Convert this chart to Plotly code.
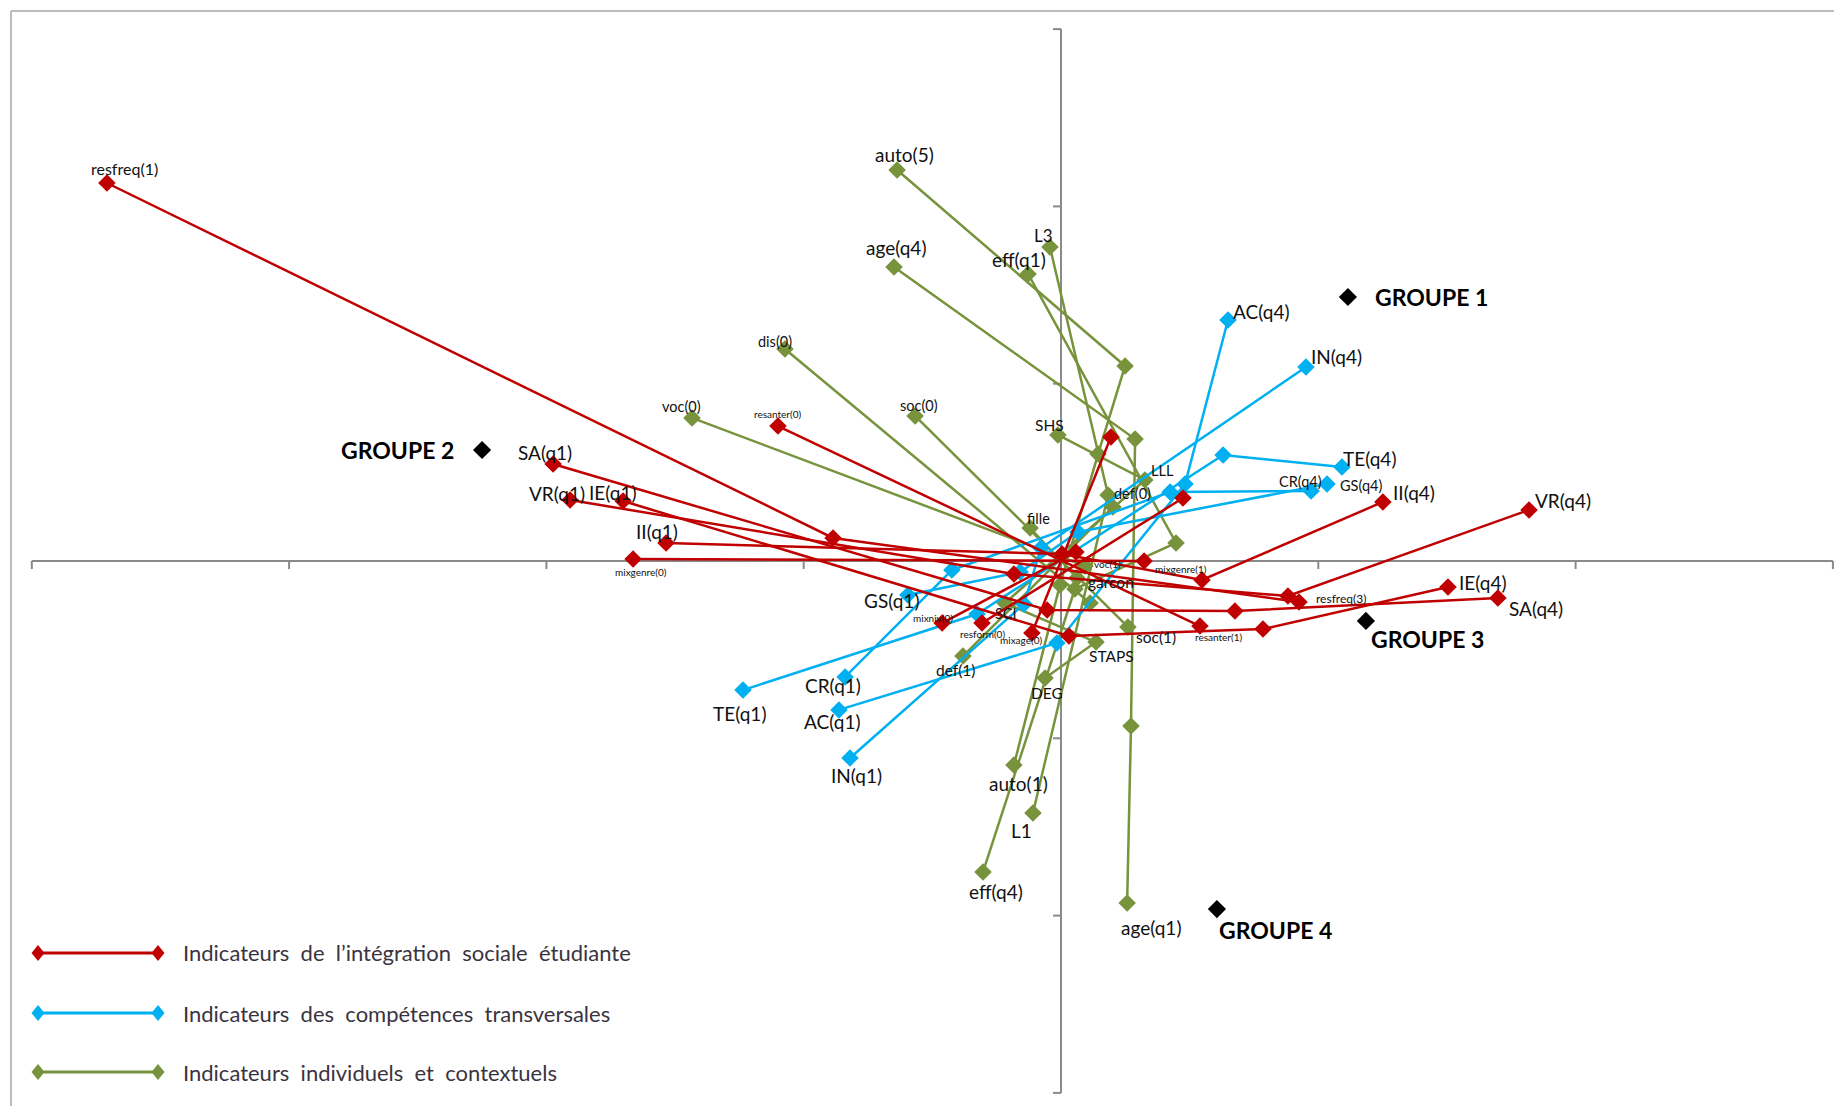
import plotly.graph_objects as go

# ---------------- DATA (factor coordinates: axis 1 = x, axis 2 = y) ----------------
# Indicateurs de l'intégration sociale étudiante (red)
sa_lab = ["SA(q1)", "", "", "SA(q4)"]
sa_x = [-1.974, -0.054, 0.676, 1.698]
sa_y = [0.547, -0.276, -0.282, -0.209]
vr_lab = ["VR(q1)", "", "", "VR(q4)"]
vr_x = [-1.908, -0.183, 0.882, 1.819]
vr_y = [0.344, -0.073, -0.197, 0.288]
ie_lab = ["IE(q1)", "", "", "IE(q4)"]
ie_x = [-1.702, 0.031, 0.785, 1.504]
ie_y = [0.338, -0.423, -0.384, -0.147]
ii_lab = ["II(q1)", "", "", "II(q4)"]
ii_x = [-1.535, 0.004, 0.548, 1.251]
ii_y = [0.102, 0.039, -0.107, 0.333]
resfreq_lab = ["resfreq(1)", "", "resfreq(3)"]
resfreq_x = [-3.708, -0.886, 0.925]
resfreq_y = [2.132, 0.130, -0.231]
mixgenre_lab = ["mixgenre(0)", "mixgenre(1)"]
mixgenre_x = [-1.663, 0.323]
mixgenre_y = [0.011, 0.0]
resanter_lab = ["resanter(0)", "resanter(1)"]
resanter_x = [-1.100, 0.540]
resanter_y = [0.761, -0.367]
mixniv_lab = ["mixniv(0)", ""]
mixniv_x = [-0.462, 0.058]
mixniv_y = [-0.350, 0.051]
resform_lab = ["resform(0)", ""]
resform_x = [-0.307, 0.474]
resform_y = [-0.350, 0.355]
mixage_lab = ["mixage(0)", ""]
mixage_x = [-0.113, 0.194]
mixage_y = [-0.406, 0.699]

# Indicateurs des compétences transversales (blue)
ac_lab = ["AC(q1)", "", "", "AC(q4)"]
ac_x = [-0.863, -0.016, 0.482, 0.649]
ac_y = [-0.840, -0.462, 0.434, 1.359]
in_lab = ["IN(q1)", "", "", "IN(q4)"]
in_x = [-0.820, -0.144, -0.078, 0.952]
in_y = [-1.111, -0.243, 0.073, 1.094]
te_lab = ["TE(q1)", "", "", "TE(q4)"]
te_x = [-1.236, -0.326, 0.630, 1.092]
te_y = [-0.728, -0.299, 0.598, 0.530]
cr_lab = ["CR(q1)", "", "", "CR(q4)"]
cr_x = [-0.839, -0.424, 0.424, 0.972]
cr_y = [-0.654, -0.051, 0.389, 0.395]
gs_lab = ["GS(q1)", "", "", "GS(q4)"]
gs_x = [-0.595, -0.159, 0.066, 1.034]
gs_y = [-0.192, -0.062, 0.164, 0.434]

# Indicateurs individuels et contextuels (green)
auto_lab = ["auto(1)", "", "", "", "auto(5)"]
auto_x = [-0.183, -0.004, 0.144, 0.249, -0.637]
auto_y = [-1.151, -0.135, 0.603, 1.100, 2.205]
age_lab = ["age(q1)", "", "", "age(q4)"]
age_x = [0.257, 0.272, 0.288, -0.649]
age_y = [-1.929, -0.931, 0.688, 1.658]
eff_lab = ["eff(q1)", "", "", "eff(q4)"]
eff_x = [-0.128, 0.447, 0.054, -0.303]
eff_y = [1.619, 0.102, -0.158, -1.754]
niv_lab = ["L1", "", "L3"]
niv_x = [-0.109, 0.183, -0.043]
niv_y = [-1.421, 0.372, 1.771]
disc_lab = ["SHS", "LLL", "SCI", "STAPS", "DEG"]
disc_x = [-0.012, 0.326, -0.218, 0.136, -0.062]
disc_y = [0.711, 0.457, -0.237, -0.457, -0.660]
dis_lab = ["dis(0)", ""]
dis_x = [-1.073, 0.113]
dis_y = [1.196, -0.237]
voc_lab = ["voc(0)", "voc(1)"]
voc_x = [-1.434, 0.093]
voc_y = [0.807, -0.028]
soc_lab = ["soc(0)", "soc(1)"]
soc_x = [-0.567, 0.260]
soc_y = [0.818, -0.372]
def_lab = ["def(0)", "def(1)"]
def_x = [0.202, -0.381]
def_y = [0.305, -0.536]
sexe_lab = ["fille", "garcon"]
sexe_x = [-0.120, 0.062]
sexe_y = [0.186, -0.096]

# Groupes (classes)
grp_lab = ["GROUPE 1", "GROUPE 2", "GROUPE 3", "GROUPE 4"]
grp_x = [1.115, -2.250, 1.185, 0.606]
grp_y = [1.489, 0.626, -0.338, -1.963]

# Axis ticks
x_ticks = [-4, -3, -2, -1, 0, 1, 2, 3]
y_ticks = [-3, -2, -1, 0, 1, 2, 3]

legend_names = ["Indicateurs de l\u2019intégration sociale étudiante",
                "Indicateurs des compétences transversales",
                "Indicateurs individuels et contextuels"]

# ---------------- STYLE ----------------
RED, BLUE, GREEN = "#C00000", "#00B0F0", "#77933C"
FONT = "Lato, Carlito, Calibri, sans-serif"
W, H = 1834, 1106
XR = [-1061 / 257.3, (W - 1061) / 257.3]
YR = [(561 - H) / 177.3, 561 / 177.3]

M, S, T = 19, 14.5, 10  # medium / small / tiny label font sizes
# label -> (dx px, dy px (down), font size)
label_style = {
    "resfreq(1)": (18, -15, 16), "resanter(0)": (0, -12, T), "SA(q1)": (-8, -12, M),
    "VR(q1)": (-13, -7, M), "IE(q1)": (-10, -9, M), "II(q1)": (-9, -11, M),
    "mixgenre(0)": (8, 13, T), "mixgenre(1)": (37, 8, T), "resanter(1)": (19, 11, T),
    "mixniv(0)": (-9, -5, T), "resform(0)": (0, 11, T), "mixage(0)": (-11, 7, T),
    "resfreq(3)": (42, -3, 12), "II(q4)": (31, -9, M), "VR(q4)": (34, -9, M),
    "IE(q4)": (35, -5, M), "SA(q4)": (38, 10, M),
    "AC(q4)": (33, -9, M), "IN(q4)": (31, -11, M), "TE(q4)": (28, -9, M),
    "CR(q4)": (-11, -9, S), "GS(q4)": (34, 1, S), "TE(q1)": (-3, 23, M),
    "CR(q1)": (-12, 9, M), "AC(q1)": (-7, 12, M), "IN(q1)": (6, 18, M), "GS(q1)": (-16, 5, M),
    "auto(5)": (7, -16, M), "age(q4)": (2, -20, M), "L3": (-6, -12, 17), "eff(q1)": (-9, -14, M),
    "soc(0)": (4, -10, S), "SHS": (-8, -10, 15.5), "dis(0)": (-10, -7, S), "voc(0)": (-11, -11, S),
    "fille": (8, -10, S), "LLL": (18, -9, S), "def(0)": (20, -13, S), "garcon": (34, 4, 15.5),
    "voc(1)": (23, -2, T), "soc(1)": (28, 10, 15.5), "STAPS": (16, 14, 15.5),
    "def(1)": (-7, 14, 15.5), "DEG": (2, 15, 15.5), "SCI": (1, 10, S),
    "auto(1)": (5, 18, M), "L1": (-11, 18, M), "eff(q4)": (13, 20, M), "age(q1)": (24, 24, M),
}
grp_style = {"GROUPE 1": ("left", 25, 0), "GROUPE 2": ("right", -26, 0),
             "GROUPE 3": ("left", 3, 18), "GROUPE 4": ("left", 0, 21)}

series = [
    (GREEN, [(auto_lab, auto_x, auto_y), (age_lab, age_x, age_y), (eff_lab, eff_x, eff_y),
             (niv_lab, niv_x, niv_y), (disc_lab, disc_x, disc_y), (dis_lab, dis_x, dis_y),
             (voc_lab, voc_x, voc_y), (soc_lab, soc_x, soc_y), (def_lab, def_x, def_y),
             (sexe_lab, sexe_x, sexe_y)]),
    (BLUE, [(ac_lab, ac_x, ac_y), (in_lab, in_x, in_y), (te_lab, te_x, te_y),
            (cr_lab, cr_x, cr_y), (gs_lab, gs_x, gs_y)]),
    (RED, [(sa_lab, sa_x, sa_y), (vr_lab, vr_x, vr_y), (ie_lab, ie_x, ie_y), (ii_lab, ii_x, ii_y),
           (resfreq_lab, resfreq_x, resfreq_y), (mixgenre_lab, mixgenre_x, mixgenre_y),
           (resanter_lab, resanter_x, resanter_y), (mixniv_lab, mixniv_x, mixniv_y),
           (resform_lab, resform_x, resform_y), (mixage_lab, mixage_x, mixage_y)]),
]

fig = go.Figure()
annotations = []
for color, variables in series:
    for labs, xs, ys in variables:
        fig.add_trace(go.Scatter(
            x=xs, y=ys, mode="lines+markers", showlegend=False,
            line=dict(color=color, width=2.5),
            marker=dict(symbol="diamond", size=13.5, color=color),
            text=labs, hoverinfo="text+x+y"))
        for lab, x, y in zip(labs, xs, ys):
            if lab:
                dx, dy, fs = label_style[lab]
                annotations.append(dict(
                    x=x, y=y, xref="x", yref="y", text=lab, showarrow=False,
                    xanchor="center", yanchor="middle", xshift=dx, yshift=-dy,
                    font=dict(family=FONT, size=fs, color="#111111")))

fig.add_trace(go.Scatter(x=grp_x, y=grp_y, mode="markers", showlegend=False,
                         marker=dict(symbol="diamond", size=14, color="black"),
                         text=grp_lab, hoverinfo="text"))
for lab, x, y in zip(grp_lab, grp_x, grp_y):
    anc, dx, dy = grp_style[lab]
    annotations.append(dict(x=x, y=y, xref="x", yref="y", text="<b>%s</b>" % lab,
                            showarrow=False, xanchor=anc, yanchor="middle",
                            xshift=dx, yshift=-dy,
                            font=dict(family=FONT, size=23, color="black")))

AX = "#8a8a8a"
shapes = [
    dict(type="line", xref="x", yref="y", x0=x_ticks[0], x1=x_ticks[-1], y0=0, y1=0,
         line=dict(color=AX, width=2), layer="below"),
    dict(type="line", xref="x", yref="y", x0=0, x1=0, y0=y_ticks[0], y1=y_ticks[-1],
         line=dict(color=AX, width=2), layer="below"),
]
for t in x_ticks:
    shapes.append(dict(type="line", xref="x", yref="y", x0=t, x1=t, ysizemode="pixel",
                       yanchor=0, y0=0, y1=-8, line=dict(color=AX, width=2), layer="below"))
for t in y_ticks:
    shapes.append(dict(type="line", xref="x", yref="y", y0=t, y1=t, xsizemode="pixel",
                       xanchor=0, x0=0, x1=-8, line=dict(color=AX, width=2), layer="below"))

# chart frame (top and left edges visible)
BX, BY = 11 / W, 1 - 11 / H
shapes.append(dict(type="line", xref="paper", yref="paper", x0=BX, x1=1, y0=BY, y1=BY,
                   line=dict(color="#a6a6a6", width=1.5)))
shapes.append(dict(type="line", xref="paper", yref="paper", x0=BX, x1=BX, y0=0, y1=BY,
                   line=dict(color="#a6a6a6", width=1.5)))

# custom legend (line with a diamond at each end)
def px(xp):
    return xp / W
def py(yp):
    return 1 - yp / H

leg_rows = [953, 1013, 1072]
for color, name, yr in zip([RED, BLUE, GREEN], legend_names, leg_rows):
    shapes.append(dict(type="line", xref="paper", yref="paper", x0=px(38), x1=px(158),
                       y0=py(yr), y1=py(yr), line=dict(color=color, width=3)))
    for cx in (38, 158):
        path = "M %f,%f L %f,%f L %f,%f L %f,%f Z" % (
            px(cx - 6.5), py(yr), px(cx), py(yr - 8), px(cx + 6.5), py(yr), px(cx), py(yr + 8))
        shapes.append(dict(type="path", xref="paper", yref="paper", path=path,
                           fillcolor=color, line=dict(color=color, width=0)))
    annotations.append(dict(x=px(181), y=py(yr), xref="paper", yref="paper",
                            text=name.replace(" ", "\u00a0\u00a0"),
                            showarrow=False, xanchor="left", yanchor="middle",
                            font=dict(family=FONT, size=22, color="#3a3340")))

fig.update_layout(
    width=W, height=H, autosize=False,
    margin=dict(l=0, r=0, t=0, b=0, pad=0),
    paper_bgcolor="white", plot_bgcolor="white",
    xaxis=dict(range=XR, visible=False, fixedrange=True),
    yaxis=dict(range=YR, visible=False, fixedrange=True),
    showlegend=False, shapes=shapes, annotations=annotations,
    hovermode="closest",
)

fig.write_html("out.html", config={"displayModeBar": False},
               post_script="document.body.style.margin='0';document.body.style.overflow='hidden';")
